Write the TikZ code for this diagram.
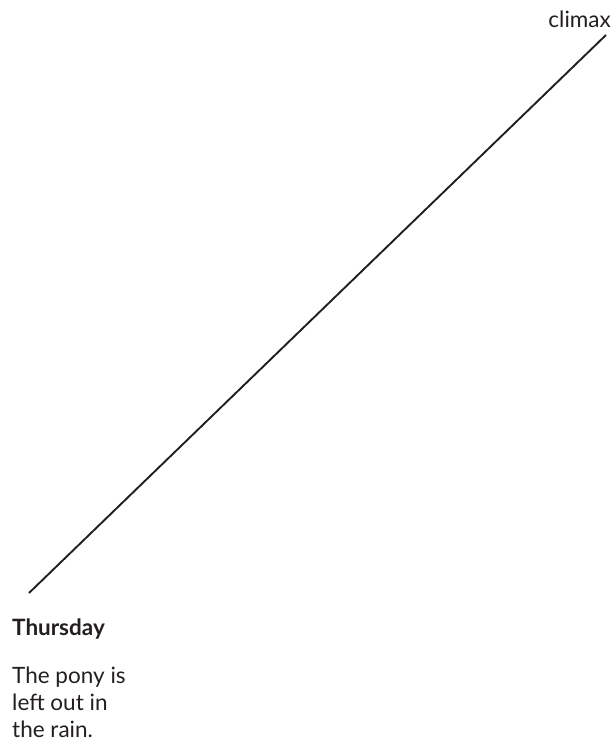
\documentclass[tikz,border=0pt]{standalone}
\usepackage{fontspec}
\setmainfont{Lato}
\definecolor{ink}{HTML}{231F20}
\begin{document}
\begin{tikzpicture}[x=1pt,y=-1pt,
  lbl/.style={inner sep=0pt,text=ink,font=\fontsize{22.5}{27}\selectfont},
  body/.style={lbl,align=left,anchor=base west}]
\useasboundingbox (0,0) rectangle (614,742);
\coordinate (start) at (29,593);
\coordinate (end) at (606,35);
\draw[ink,line width=1.9pt] (start) -- (end);
\node[lbl,anchor=base east] (climax) at (611,27) {climax};
\node[lbl,anchor=base west,font=\fontsize{22.5}{27}\selectfont\bfseries] (thu) at (12,635) {Thursday};
\node[body] (txt) at (12,737) {The pony is\\left out in\\the rain.};
\end{tikzpicture}
\end{document}
